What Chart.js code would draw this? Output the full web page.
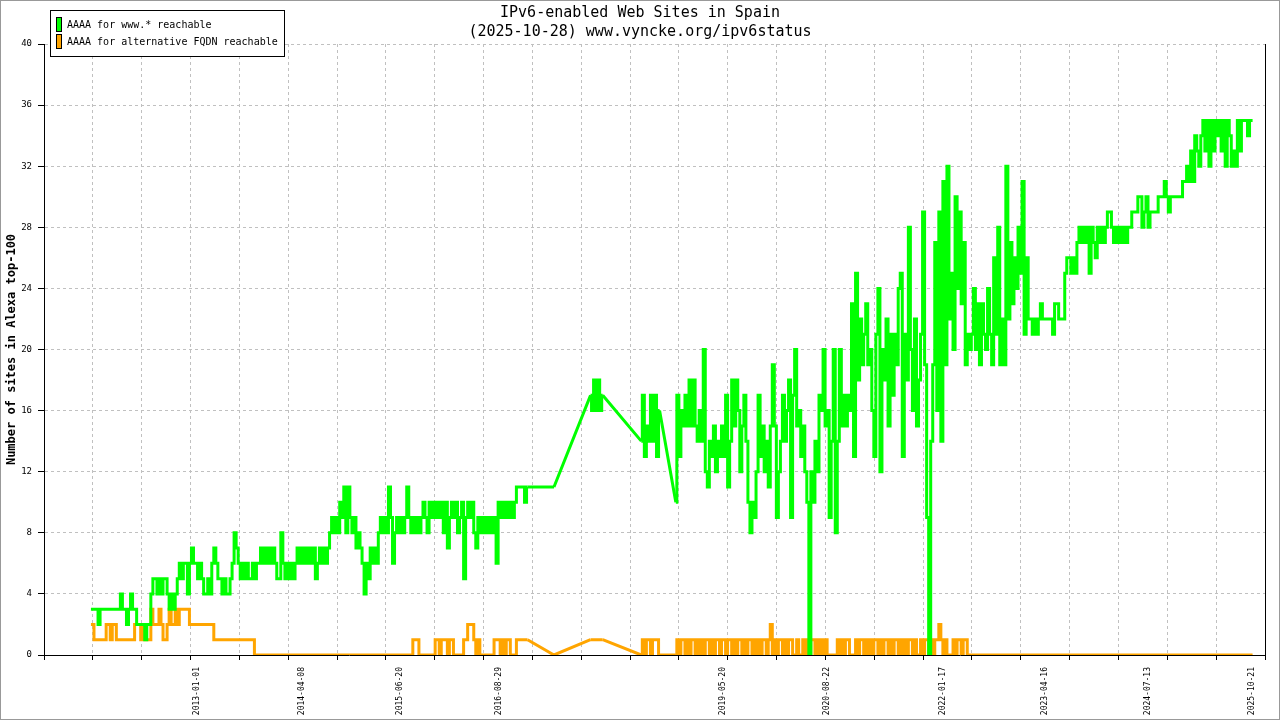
<!DOCTYPE html>
<html>
<head>
<meta charset="utf-8">
<title>IPv6-enabled Web Sites in Spain</title>
<script src="https://cdn.jsdelivr.net/npm/chart.js@4.4.1/dist/chart.umd.min.js"></script>
<style>
  html, body { margin: 0; padding: 0; background: #fff; }
  #wrap { width: 1280px; height: 720px; }
</style>
</head>
<body>
<div id="wrap"><canvas id="ipv6Chart" width="1280" height="720"></canvas></div>
<script>
// one sample every 9 days, starting at the first measurement
const firstSample = '2011-09-18';
const sampleStepDays = 9;

// x axis range and labelled dates
const axisStart = '2011-02-22';
const axisEnd = '2025-12-16';
const xGridDivisions = 25;
const dateLabels = ['2013-01-01', '2014-04-08', '2015-06-20', '2016-08-29', '2019-05-20',
                    '2020-08-22', '2022-01-17', '2023-04-16', '2024-07-13', '2025-10-21'];

const yMax = 40;
const yStep = 4;

// AAAA for www.* reachable (null = no measurement)
const wwwReachable = [
  3,3,3,3,2,3,3,3,3,3,3,3,3,3,3,4,3,3,2,3,4,3,3,2,
  2,2,2,1,2,2,4,5,5,4,5,4,5,5,4,3,4,3,4,5,6,5,6,6,
  4,6,7,6,6,5,6,5,4,4,5,4,6,7,6,5,5,4,5,4,4,5,6,8,
  7,6,5,6,5,6,5,5,6,5,6,6,7,6,7,6,7,6,7,6,5,5,8,6,
  5,6,5,6,5,6,7,6,7,6,7,6,7,6,7,5,6,7,6,7,6,7,8,9,
  8,9,8,10,9,11,8,11,9,8,9,7,8,7,6,4,6,5,7,6,7,6,8,9,
  8,9,8,11,9,6,8,9,8,9,8,9,11,9,8,9,8,9,8,9,10,9,8,10,
  9,10,9,10,9,10,8,10,7,9,10,9,10,8,9,10,5,9,10,9,10,8,7,9,
  8,9,8,9,8,9,8,9,6,10,9,10,9,10,9,10,9,10,11,11,11,11,10,11,
  null,null,null,null,null,null,null,null,null,null,null,null,11,null,null,null,null,null,null,null,null,null,null,null,
  null,null,null,null,null,null,17,16,18,16,18,16,17,null,null,null,null,null,null,null,null,null,null,null,
  null,null,null,null,null,null,null,14,17,13,15,14,17,14,17,13,16,null,null,null,null,null,null,null,
  10,17,13,16,15,17,15,18,15,18,15,14,16,14,20,12,11,14,13,15,12,14,13,15,
  13,17,11,14,18,15,18,16,12,15,17,14,10,8,10,9,12,17,13,15,12,14,11,15,
  19,15,9,12,14,17,14,16,18,9,17,20,15,16,13,15,12,10,0,12,10,14,12,17,
  16,20,15,16,9,14,20,8,14,20,15,17,15,17,16,23,13,25,18,22,19,21,23,19,
  20,16,13,21,24,12,20,18,22,15,21,17,21,19,24,25,13,21,18,28,20,16,22,15,
  18,21,29,19,9,0,14,19,27,16,29,14,31,19,32,22,25,20,30,24,29,23,27,19,
  21,20,21,24,20,23,19,23,21,20,24,21,19,26,21,28,19,22,19,32,22,27,23,26,
  24,28,25,31,21,26,22,22,21,22,21,22,23,22,22,22,22,22,21,23,23,22,22,22,
  25,26,26,25,26,25,27,28,27,28,27,28,25,28,27,26,28,27,28,27,28,29,29,28,
  27,28,27,28,27,28,27,28,28,29,29,29,30,30,28,29,30,28,29,29,29,29,30,30,
  30,31,30,29,30,30,30,30,30,30,31,31,32,31,33,31,34,33,32,34,35,33,35,32,
  35,33,35,34,35,33,35,32,35,34,32,33,32,35,33,35,35,35,34,35,35
];

// AAAA for alternative FQDN reachable
const altFqdnReachable = [
  2,2,1,1,1,1,1,1,2,2,1,2,2,1,1,1,1,1,1,1,1,1,2,2,
  2,1,2,1,1,1,3,2,2,2,3,2,1,1,2,3,2,2,3,2,3,3,3,3,
  3,2,2,2,2,2,2,2,2,2,2,2,2,1,1,1,1,1,1,1,1,1,1,1,
  1,1,1,1,1,1,1,1,1,0,0,0,0,0,0,0,0,0,0,0,0,0,0,0,
  0,0,0,0,0,0,0,0,0,0,0,0,0,0,0,0,0,0,0,0,0,0,0,0,
  0,0,0,0,0,0,0,0,0,0,0,0,0,0,0,0,0,0,0,0,0,0,0,0,
  0,0,0,0,0,0,0,0,0,0,0,0,0,0,0,1,1,1,0,0,0,0,0,0,
  0,0,1,1,0,1,1,1,0,1,1,0,0,0,0,0,1,1,2,2,2,1,0,1,
  0,0,0,0,0,0,0,1,1,1,0,1,0,1,1,0,0,0,1,1,1,1,1,1,
  null,null,null,null,null,null,null,null,null,null,null,null,0,null,null,null,null,null,null,null,null,null,null,null,
  null,null,null,null,null,null,1,1,1,1,1,1,1,null,null,null,null,null,null,null,null,null,null,null,
  null,null,null,null,null,null,null,0,1,0,1,1,0,1,1,1,0,null,null,null,null,null,null,null,
  0,1,0,1,1,0,1,0,1,1,0,1,0,1,0,1,1,0,1,0,1,1,0,1,
  1,0,1,1,0,1,0,1,1,0,1,0,1,1,0,1,0,1,0,1,1,0,1,2,
  0,1,0,1,1,0,1,0,1,1,0,0,1,0,0,1,0,1,0,1,1,0,1,0,
  1,0,1,0,0,0,0,0,1,0,1,0,1,1,0,0,0,1,0,1,1,0,1,0,
  1,0,1,1,0,1,0,1,1,0,1,0,1,1,0,1,0,1,0,1,1,0,1,0,
  0,1,0,1,1,0,1,0,1,1,2,1,0,1,0,0,0,1,0,1,1,0,1,1,
  0,0,0,0,0,0,0,0,0,0,0,0,0,0,0,0,0,0,0,0,0,0,0,0,
  0,0,0,0,0,0,0,0,0,0,0,0,0,0,0,0,0,0,0,0,0,0,0,0,
  0,0,0,0,0,0,0,0,0,0,0,0,0,0,0,0,0,0,0,0,0,0,0,0,
  0,0,0,0,0,0,0,0,0,0,0,0,0,0,0,0,0,0,0,0,0,0,0,0,
  0,0,0,0,0,0,0,0,0,0,0,0,0,0,0,0,0,0,0,0,0,0,0,0,
  0,0,0,0,0,0,0,0,0,0,0,0,0,0,0,0,0,0,0,0,0
];

const MONO = "'DejaVu Sans Mono', monospace";
const GRID_GREY = '#c0c0c0';
const CLEAR = 'rgba(0,0,0,0)';
const GREEN = '#00ff00';
const ORANGE = '#ffa500';

function daysSince(dateStr) {
  const [y, m, d] = dateStr.split('-').map(Number);
  const [y0, m0, d0] = firstSample.split('-').map(Number);
  return (Date.UTC(y, m - 1, d) - Date.UTC(y0, m0 - 1, d0)) / 86400000;
}

const toPoints = values => values.map((v, i) => ({ x: i * sampleStepDays, y: v }));

// straight joins across the periods without measurements
function gapBridges(values) {
  const pts = [];
  let last = -1;
  values.forEach((v, i) => {
    if (v === null) return;
    if (last >= 0 && i - last > 1) {
      pts.push({ x: last * sampleStepDays, y: values[last] },
               { x: i * sampleStepDays, y: v },
               { x: i * sampleStepDays, y: null });
    }
    last = i;
  });
  return pts;
}

const xMin = daysSince(axisStart);
const xMax = daysSince(axisEnd);

// legend box + outer frame, drawn like the original image
const boxLegend = {
  id: 'boxLegend',
  afterDraw(chart) {
    const ctx = chart.ctx;
    ctx.save();
    ctx.lineWidth = 1;
    ctx.fillStyle = '#fff';
    ctx.fillRect(50.5, 10.5, 234, 46);
    ctx.strokeStyle = '#000';
    ctx.strokeRect(50.5, 10.5, 234, 46);
    ctx.font = '10px ' + MONO;
    ctx.textBaseline = 'middle';
    chart.data.datasets.filter(ds => ds.inLegend).forEach((ds, i) => {
      const y = 17.5 + i * 17;
      ctx.fillStyle = ds.borderColor;
      ctx.fillRect(56.5, y, 5, 14);
      ctx.strokeStyle = '#000';
      ctx.strokeRect(56.5, y, 5, 14);
      ctx.fillStyle = '#000';
      ctx.fillText(ds.label, 67, y + 8);
    });
    ctx.strokeStyle = '#999';
    ctx.strokeRect(0.5, 0.5, chart.width - 1, chart.height - 1);
    ctx.restore();
  }
};

const lineStyle = {
  borderWidth: 3,
  pointRadius: 0,
  borderJoinStyle: 'miter',
  borderCapStyle: 'butt',
  tension: 0
};

new Chart(document.getElementById('ipv6Chart'), {
  type: 'line',
  data: {
    datasets: [
      {
        ...lineStyle,
        label: 'AAAA for www.* reachable',
        inLegend: true,
        data: toPoints(wwwReachable),
        borderColor: GREEN,
        backgroundColor: GREEN,
        stepped: 'middle',
        spanGaps: false
      },
      {
        ...lineStyle,
        label: 'AAAA for alternative FQDN reachable',
        inLegend: true,
        data: toPoints(altFqdnReachable),
        borderColor: ORANGE,
        backgroundColor: ORANGE,
        stepped: 'middle',
        spanGaps: false
      },
      {
        ...lineStyle,
        label: 'www gaps',
        data: gapBridges(wwwReachable),
        borderColor: GREEN,
        backgroundColor: GREEN,
        spanGaps: false
      },
      {
        ...lineStyle,
        label: 'FQDN gaps',
        data: gapBridges(altFqdnReachable),
        borderColor: ORANGE,
        backgroundColor: ORANGE,
        spanGaps: false
      }
    ]
  },
  options: {
    responsive: false,
    animation: false,
    devicePixelRatio: 1,
    layout: { padding: 0, autoPadding: false },
    plugins: {
      legend: { display: false },
      tooltip: { enabled: false },
      title: {
        display: true,
        text: ['IPv6-enabled Web Sites in Spain', '(2025-10-28) www.vyncke.org/ipv6status'],
        color: '#000',
        font: { family: MONO, size: 15, weight: 'normal', lineHeight: 19 / 15 },
        padding: { top: 4, bottom: 2 }
      }
    },
    scales: {
      x: {
        type: 'linear',
        min: xMin,
        max: xMax,
        afterBuildTicks: axis => {
          const grid = [];
          for (let k = 0; k <= xGridDivisions; k++) {
            grid.push({ value: xMin + k * (xMax - xMin) / xGridDivisions });
          }
          const labelled = dateLabels.map(d => ({ value: daysSince(d), dateText: d }));
          axis.ticks = grid.concat(labelled);
        },
        afterFit: scale => { scale.height = 65; },
        ticks: {
          autoSkip: false,
          minRotation: 90,
          maxRotation: 90,
          padding: 7,
          color: '#000',
          font: { family: MONO, size: 8 },
          callback: (value, index, ticks) => ticks[index].dateText || ''
        },
        grid: {
          color: ctx => (ctx.tick && ctx.tick.dateText ? CLEAR : GRID_GREY),
          tickColor: ctx => (ctx.tick && ctx.tick.dateText ? CLEAR : '#000'),
          tickLength: 5,
          lineWidth: 1
        },
        border: { display: true, color: '#000', width: 1, dash: [3, 3] }
      },
      y: {
        min: 0,
        max: yMax,
        afterFit: scale => { scale.width = 44; },
        ticks: {
          stepSize: yStep,
          padding: 6,
          color: '#000',
          font: { family: MONO, size: 9 }
        },
        grid: { color: GRID_GREY, tickColor: '#000', tickLength: 6, lineWidth: 1 },
        border: { display: true, color: '#000', width: 1, dash: [3, 3] },
        title: {
          display: true,
          text: 'Number of sites in Alexa top-100',
          color: '#000',
          font: { family: MONO, size: 12, weight: 'bold' },
          padding: { top: 5, bottom: 0 }
        }
      },
      yRight: {
        position: 'right',
        min: 0,
        max: yMax,
        afterFit: scale => { scale.width = 15; },
        ticks: { display: false },
        grid: { display: false },
        border: { display: true, color: '#000', width: 1 }
      }
    }
  },
  plugins: [boxLegend]
});
</script>
</body>
</html>
